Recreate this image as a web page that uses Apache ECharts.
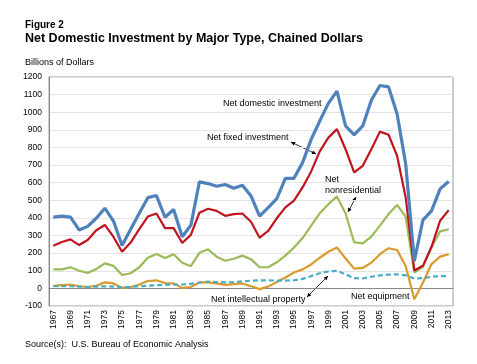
<!DOCTYPE html>
<html>
<head>
<meta charset="utf-8">
<script src="https://cdn.jsdelivr.net/npm/echarts@6/dist/echarts.min.js"></script>
<style>
html,body{margin:0;padding:0;background:#fff;}
#chart{width:477px;height:364px;}
</style>
</head>
<body>
<div id="chart"></div>
<script>
var years = [];
for (var y = 1967; y <= 2013; y++) years.push(String(y));

var netDomestic = [405,410,405,332,352,398,455,382,243,336,426,515,527,404,448,293,358,605,595,580,590,568,585,525,410,458,510,624,625,714,846,950,1050,1120,922,872,922,1068,1152,1144,990,705,155,388,440,565,607];
var netFixed = [242,263,278,246,275,330,360,292,208,260,336,408,425,342,342,258,304,430,452,440,412,422,425,378,288,326,398,460,498,573,664,778,856,904,790,658,696,790,890,872,752,515,102,128,236,384,444];
var netNonres = [108,108,120,100,88,110,142,128,76,86,120,174,195,172,194,146,126,202,222,180,157,168,186,166,120,120,148,186,232,286,356,426,478,522,425,262,256,294,356,422,474,406,90,122,232,324,336];
var netEquip = [14,18,22,12,8,15,34,28,3,8,22,42,46,30,28,3,8,34,34,28,20,24,28,12,-4,10,36,62,90,108,136,174,208,232,170,112,116,146,194,228,218,126,-62,32,138,180,194];
var netIP = [12,12,12,10,8,10,12,10,6,8,12,15,18,20,22,22,26,32,38,36,34,36,40,44,46,46,44,44,46,54,70,86,96,100,80,58,56,66,74,78,80,74,56,58,66,70,70];

var chart = echarts.init(document.getElementById('chart'), null, {renderer:'canvas'});

function arrow(x1,y1,x2,y2){
  var dx=x2-x1, dy=y2-y1, L=Math.sqrt(dx*dx+dy*dy), ux=dx/L, uy=dy/L;
  var h=4, w=2;
  function head(px,py,sx,sy){
    return {type:'polygon', shape:{points:[[px,py],[px-sx*h-sy*w,py-sy*h+sx*w],[px-sx*h+sy*w,py-sy*h-sx*w]]}, style:{fill:'#000'}};
  }
  return [
    {type:'line', shape:{x1:x1,y1:y1,x2:x2,y2:y2}, style:{stroke:'#000',lineWidth:0.8}},
    head(x2,y2,ux,uy), head(x1,y1,-ux,-uy)
  ];
}

var ann = [
  {type:'text', left:25, top:20, style:{text:'Figure 2', font:'bold 10px "Liberation Sans", Arial', fill:'#000'}},
  {type:'text', left:25, top:32, style:{text:'Net Domestic Investment by Major Type, Chained Dollars', font:'bold 12.5px "Liberation Sans", Arial', fill:'#000'}},
  {type:'text', left:25, top:58, style:{text:'Billions of Dollars', font:'9px "Liberation Sans", Arial', fill:'#000'}},
  {type:'text', left:25, top:340, style:{text:'Source(s):  U.S. Bureau of Economic Analysis', font:'9px "Liberation Sans", Arial', fill:'#000'}},
  {type:'text', x:223, y:99, style:{text:'Net domestic investment', font:'9px "Liberation Sans", Arial', fill:'#000'}},
  {type:'text', x:207, y:133, style:{text:'Net fixed investment', font:'9px "Liberation Sans", Arial', fill:'#000'}},
  {type:'text', x:325, y:174, style:{text:'Net\nnonresidential', font:'9px "Liberation Sans", Arial', fill:'#000', lineHeight:11}},
  {type:'text', x:211, y:295, style:{text:'Net intellectual property', font:'9px "Liberation Sans", Arial', fill:'#000'}},
  {type:'text', x:351, y:292, style:{text:'Net equipment', font:'9px "Liberation Sans", Arial', fill:'#000'}}
].concat(arrow(291,142,316,154), arrow(356,197,348,212), arrow(307,297,328,276));

function ser(name, data, color, width, dashed){
  return {name:name, type:'line', data:data, symbol:'none', smooth:false,
    lineStyle:{color:color, width:width, type: dashed ? [5,3] : 'solid'},
    itemStyle:{color:color}, z: dashed ? 3 : 2};
}

chart.setOption({
  animation:false,
  backgroundColor:'#fff',
  grid:{left:49, top:77, right:24, bottom:58, show:true, borderColor:'#999', borderWidth:1, backgroundColor:'transparent'},
  xAxis:{type:'category', data:years, boundaryGap:true,
    axisLine:{show:true, lineStyle:{color:'#888', width:1}},
    axisTick:{show:false},
    axisLabel:{interval:1, rotate:90, color:'#000', fontSize:8.5, fontFamily:'"Liberation Sans", Arial', margin:4}},
  yAxis:{type:'value', min:-100, max:1200, interval:100,
    axisLine:{show:true, lineStyle:{color:'#888', width:1}},
    axisTick:{show:false},
    splitLine:{lineStyle:{color:'#e3e3e3', width:1}},
    axisLabel:{color:'#000', fontSize:8.5, fontFamily:'"Liberation Sans", Arial', margin:7,
      formatter:function(v){return String(v);}}},
  series:[
    ser('Net intellectual property', netIP, '#4bacc6', 2.2, true),
    ser('Net equipment', netEquip, '#d99a2b', 2.2, false),
    ser('Net nonresidential', netNonres, '#9bbb59', 2.2, false),
    ser('Net fixed investment', netFixed, '#c0141e', 2.2, false),
    ser('Net domestic investment', netDomestic, '#4f81bd', 3.2, false)
  ],
  graphic: ann
});
</script>
</body>
</html>
